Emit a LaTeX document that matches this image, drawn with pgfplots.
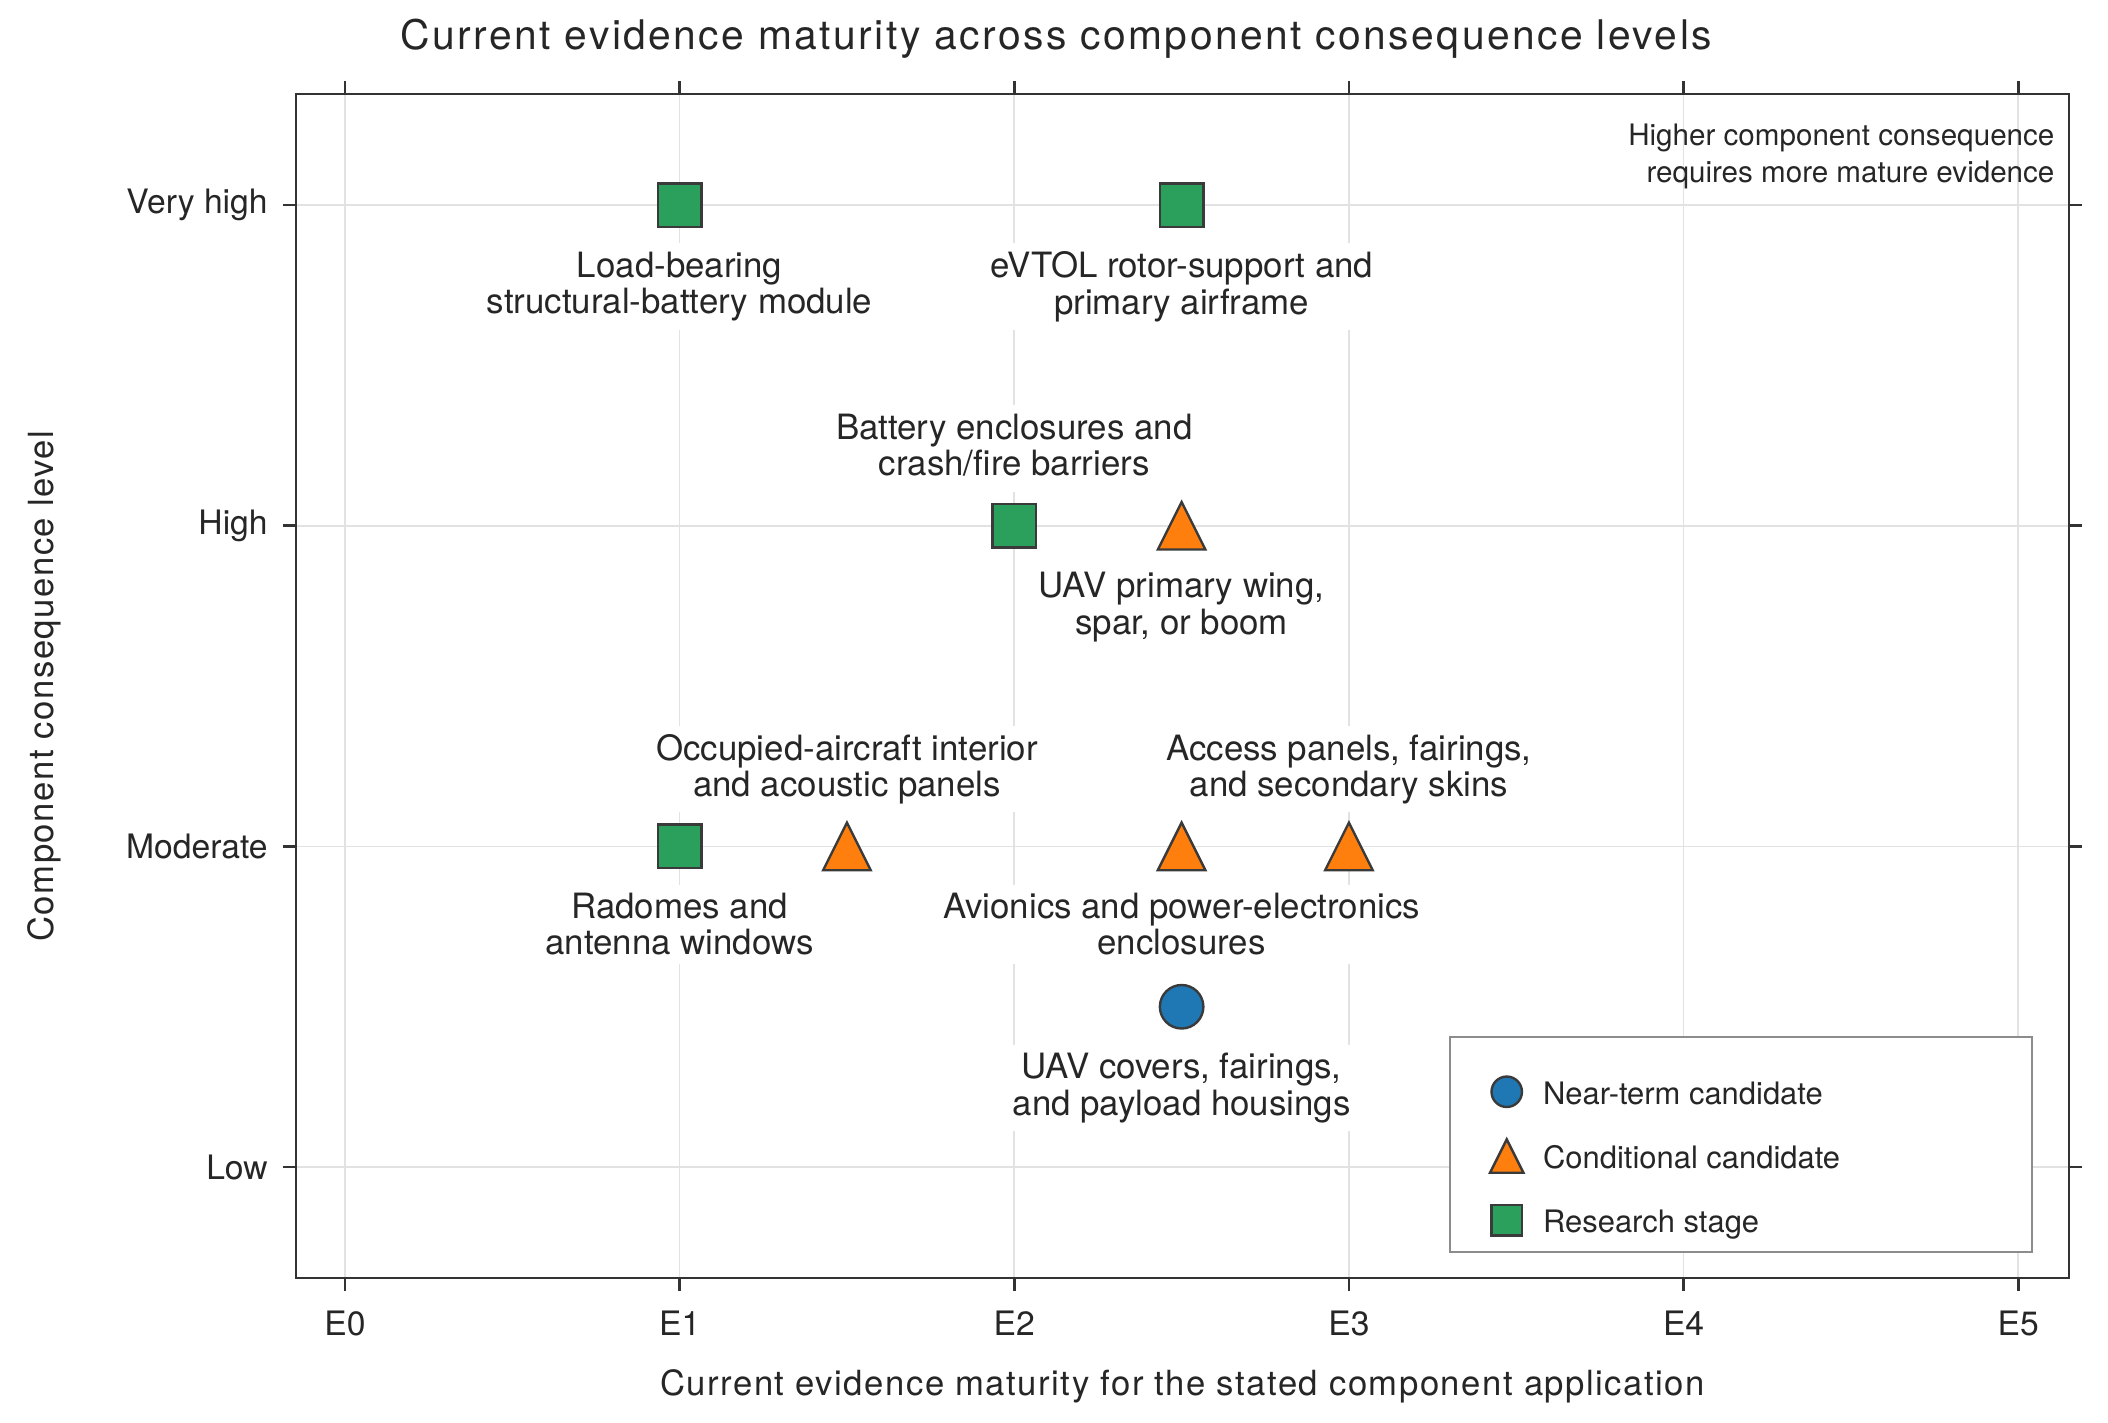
\documentclass[border=0pt]{standalone}
\usepackage{fontspec}
\setmainfont{TeX Gyre Heros}
\newfontfamily\titlefont[LetterSpace=6]{TeX Gyre Heros}
\newfontfamily\labfont[LetterSpace=4.3]{TeX Gyre Heros}
\usepackage{pgfplots}
\pgfplotsset{compat=1.18}

\definecolor{cblue}{HTML}{1F77B4}
\definecolor{corange}{HTML}{FF7F0E}
\definecolor{cgreen}{HTML}{2AA05C}
\definecolor{edge}{HTML}{3A3A3A}
\definecolor{framec}{HTML}{333333}
\definecolor{gridc}{HTML}{E2E2E2}
\definecolor{legframe}{HTML}{8C8C8C}
\definecolor{txt}{HTML}{262626}

\pgfdeclareplotmark{tri}{%
  \pgfpathmoveto{\pgfqpoint{0pt}{\pgfplotmarksize}}%
  \pgfpathlineto{\pgfqpoint{\pgfplotmarksize}{-\pgfplotmarksize}}%
  \pgfpathlineto{\pgfqpoint{-\pgfplotmarksize}{-\pgfplotmarksize}}%
  \pgfpathclose
  \pgfusepathqfillstroke}

\pgfplotstableread{
x y
2.5 1.5
}\neartable
\pgfplotstableread{
x y
2.5 3
1.5 2
2.5 2
3 2
}\condtable
\pgfplotstableread{
x y
1 4
2.5 4
2 3
1 2
}\restable

\tikzset{
  lab/.style={fill=white, inner sep=2.5pt, align=center,
    font=\fontsize{10.25}{10.7}\selectfont, text=txt},
  blab/.style={lab, anchor=north, yshift=-11pt},
  alab/.style={lab, anchor=south, yshift=9.8pt, text depth=2.2pt},
  note/.style={anchor=base east, inner sep=0pt, text=txt,
    font=\fontsize{8.7}{10}\selectfont}
}

\begin{document}
\begin{tikzpicture}
\begin{axis}[
  scale only axis, width=521.5pt, height=348.2pt,
  xmin=-0.1464, xmax=5.152, ymin=0.654, ymax=4.346,
  xtick={0,1,2,3,4,5}, xticklabels={E0,E1,E2,E3,E4,E5},
  ytick={1,2,3,4}, yticklabels={Low,Moderate,High,Very high},
  tick align=outside, tick pos=both, major tick length=3.8pt,
  axis line style={draw=framec, line width=0.8pt},
  tick style={draw=framec, line width=0.8pt},
  grid=major, major grid style={draw=gridc, line width=0.5pt},
  ticklabel style={font=\fontsize{9.9}{11}\selectfont, text=txt},
  xticklabel style={yshift=-2.4pt},
  yticklabel style={xshift=-1.0pt},
  title={Current evidence maturity across component consequence levels},
  title style={at={(0.4288,1)}, anchor=base, yshift=7.2pt, inner sep=0pt,
    font=\fontsize{12}{14}\titlefont, text=txt},
  xlabel={Current evidence maturity for the stated component application},
  every axis x label/.style={at={(0.5,0)}, anchor=base, yshift=-34.4pt,
    font=\fontsize{10.2}{12}\labfont, text=txt},
  ylabel={Component consequence level},
  every axis y label/.style={at={(0,0.5)}, anchor=base, xshift=-71.3pt, rotate=90,
    font=\fontsize{10.2}{12}\labfont, text=txt},
  legend cell align=left,
  legend style={at={(0.6717,0.174)}, anchor=north west, draw=none, fill=none,
    inner sep=0pt, nodes={inner sep=0pt}, row sep=7.7pt, column sep=5.1pt,
    font=\fontsize{9.1}{11}\selectfont, text=txt},
  legend image code/.code={%
    \pgfpathrectangle{\pgfpoint{-5.6pt}{-5.6pt}}{\pgfpoint{11.2pt}{11.2pt}}%
    \pgfusepath{use as bounding box}%
    \draw[#1, mark options={scale=0.7}] plot coordinates {(0pt,0pt)};},
]
\coordinate (sw) at (rel axis cs:0,0);
\addplot[only marks, mark=*, mark size=6.4pt, fill=cblue, draw=edge, line width=0.7pt]
  table[x=x, y=y] {\neartable};
\addlegendentry{\rule[-3pt]{0pt}{11.8pt}Near-term candidate}
\addplot[only marks, mark=tri, mark size=7.0pt, fill=corange, draw=edge, line width=0.7pt]
  table[x=x, y=y] {\condtable};
\addlegendentry{\rule[-3pt]{0pt}{11.8pt}Conditional candidate}
\addplot[only marks, mark=square*, mark size=6.4pt, fill=cgreen, draw=edge, line width=0.7pt]
  table[x=x, y=y] {\restable};
\addlegendentry{\rule[-3pt]{0pt}{11.8pt}Research stage}

\node[blab] at (axis cs:1,4) {Load-bearing\\structural-battery module};
\node[blab] at (axis cs:2.5,4) {eVTOL rotor-support and\\primary airframe};
\node[alab] at (axis cs:2,3) {Battery enclosures and\\crash/fire barriers};
\node[blab] at (axis cs:2.5,3) {UAV primary wing,\\spar, or boom};
\node[alab] at (axis cs:1.5,2) {Occupied-aircraft interior\\and acoustic panels};
\node[alab] at (axis cs:3,2) {Access panels, fairings,\\and secondary skins};
\node[blab] at (axis cs:1,2) {Radomes and\\antenna windows};
\node[blab] at (axis cs:2.5,2) {Avionics and power-electronics\\enclosures};
\node[blab] at (axis cs:2.5,1.5) {UAV covers, fairings,\\and payload housings};

\node[note] at (rel axis cs:0.9921,0.9569) {Higher component consequence};
\node[note] at (rel axis cs:0.9921,0.9257) {requires more mature evidence};

\draw[draw=legframe, line width=0.6pt, fill=white]
  (rel axis cs:0.6509,0.022) rectangle (rel axis cs:0.9791,0.2035);
\end{axis}
\path (sw) ++(-87.06pt,-42.35pt) rectangle ++(620pt,418.24pt);
\end{tikzpicture}
\end{document}
